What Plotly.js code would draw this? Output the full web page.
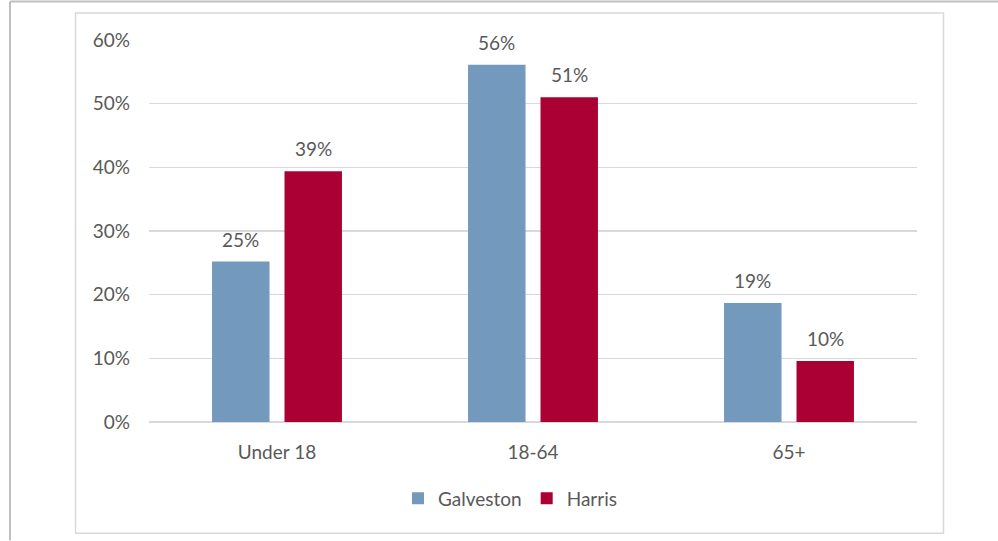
<!DOCTYPE html>
<html>
<head>
<meta charset="utf-8">
<script src="https://cdn.plot.ly/plotly-3.0.1.min.js"></script>
<style>
html,body{margin:0;padding:0;background:#fff;}
#chart{width:998px;height:541px;}
</style>
</head>
<body>
<div id="chart"></div>
<script>
// ---- data ----
const categories = ["Under 18", "18-64", "65+"];
const seriesNames = ["Galveston", "Harris"];
const galveston = [25.2, 56.1, 18.7];
const harris = [39.4, 51.0, 9.6];
const yTicks = [0, 10, 20, 30, 40, 50, 60];

// ---- styling / layout ----
const W = 998, H = 541;
const M = {l: 149, r: 81, t: 40, b: 118.5};
const colors = ["#7399bd", "#ab0033"];
const textColor = "#595959";
const fontFam = "Lato, 'Open Sans', sans-serif";
const fs = 19;
const plotW = W - M.l - M.r, plotH = H - M.t - M.b;
const px2x = p => (p - M.l) / plotW;
const py2y = p => (H - M.b - p) / plotH;

const bargap = 0.434, bargroupgap = 0.207;
const slot = (1 - bargap) / 2;

const seriesVals = [galveston, harris];
const traces = seriesVals.map((vals, i) => ({
  type: "bar",
  name: seriesNames[i],
  x: categories,
  y: vals,
  marker: {color: colors[i], line: {width: 0}},
  hoverinfo: "none"
}));

const annotations = [];
seriesVals.forEach((vals, s) => {
  vals.forEach((v, c) => {
    annotations.push({
      xref: "x", yref: "y",
      x: c + (s === 0 ? -slot / 2 : slot / 2),
      y: v,
      text: Math.round(v) + "%",
      showarrow: false,
      xanchor: "center", yanchor: "bottom",
      yshift: 9,
      font: {family: fontFam, size: fs, color: textColor}
    });
  });
});

const shapes = [
  {type: "line", xref: "paper", yref: "paper", x0: px2x(10), x1: px2x(998), y0: py2y(1.5), y1: py2y(1.5), line: {color: "#bfbfbf", width: 2}},
  {type: "line", xref: "paper", yref: "paper", x0: px2x(10), x1: px2x(10), y0: py2y(1.5), y1: py2y(541), line: {color: "#bfbfbf", width: 2}},
  {type: "rect", xref: "paper", yref: "paper", x0: px2x(75.5), x1: px2x(943.5), y0: py2y(13), y1: py2y(534), line: {color: "#d9d9d9", width: 1.5}, layer: "below"}
];

const layout = {
  width: W, height: H,
  margin: M,
  paper_bgcolor: "#ffffff",
  plot_bgcolor: "#ffffff",
  barmode: "group",
  bargap: bargap,
  bargroupgap: bargroupgap,
  showlegend: true,
  legend: {
    orientation: "h",
    x: px2x(510), xanchor: "center",
    y: py2y(499), yanchor: "middle",
    font: {family: fontFam, size: fs, color: textColor},
    itemwidth: 30,
    traceorder: "normal"
  },
  xaxis: {
    type: "category",
    showgrid: false,
    showline: false,
    zeroline: false,
    ticks: "",
    ticklabelstandoff: 17,
    tickfont: {family: fontFam, size: fs, color: textColor}
  },
  yaxis: {
    range: [0, 60],
    tickvals: yTicks,
    ticktext: yTicks.map(t => t + "%"),
    showgrid: true,
    gridcolor: "#d9d9d9",
    gridwidth: 1.5,
    zeroline: true,
    zerolinecolor: "#d9d9d9",
    zerolinewidth: 1.5,
    showline: false,
    ticks: "",
    ticklabelstandoff: 18,
    tickfont: {family: fontFam, size: fs, color: textColor}
  },
  annotations: annotations,
  shapes: shapes,
  font: {family: fontFam, color: textColor}
};

Plotly.newPlot("chart", traces, layout, {displayModeBar: false, staticPlot: true});
</script>
</body>
</html>
